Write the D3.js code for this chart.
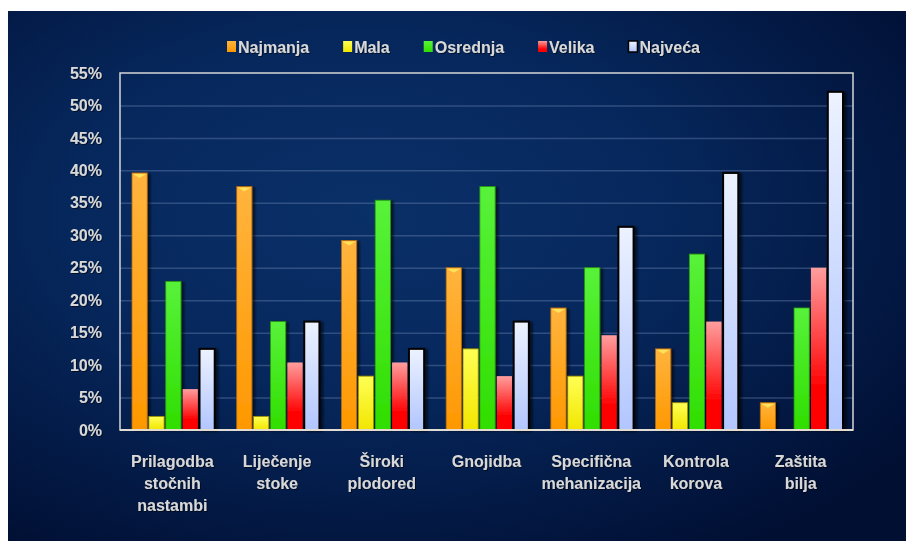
<!DOCTYPE html>
<html>
<head>
<meta charset="utf-8">
<script src="https://cdn.jsdelivr.net/npm/d3@7"></script>
<style>
  html, body { margin: 0; padding: 0; background: #fff; }
  text { font-family: "Liberation Sans", Arial, sans-serif; font-weight: bold; fill: #d8d8d8; }
</style>
</head>
<body>
<div id="chart"></div>
<script>
// categories (one line per row of the label)
const categories = [
  ["Prilagodba", "stočnih", "nastambi"],
  ["Liječenje", "stoke"],
  ["Široki", "plodored"],
  ["Gnojidba"],
  ["Specifična", "mehanizacija"],
  ["Kontrola", "korova"],
  ["Zaštita", "bilja"]
]

const seriesNames = ["Najmanja", "Mala", "Osrednja", "Velika", "Najveća"]

// values in %
const najmanja = [39.6, 37.5, 29.2, 25.0, 18.8, 12.5, 4.2]
const mala     = [2.1, 2.1, 8.3, 12.5, 8.3, 4.2, 0]
const osrednja = [22.9, 16.7, 35.4, 37.5, 25.0, 27.1, 18.8]
const velika   = [6.3, 10.4, 10.4, 8.3, 14.6, 16.7, 25.0]
const najveca  = [12.5, 16.7, 12.5, 16.7, 31.3, 39.6, 52.1]

const yTicks = [0, 5, 10, 15, 20, 25, 30, 35, 40, 45, 50, 55]

const width = 907
const height = 541
const margin = { top: 73, right: 54, bottom: 111, left: 120 }

const seriesValues = [najmanja, mala, osrednja, velika, najveca]
const catKeys = categories.map(c => c.join(" "))

const svg = d3.select("#chart")
  .append("svg")
  .attr("width", width)
  .attr("height", height)

const defs = svg.append("defs")

const bg = defs.append("radialGradient")
  .attr("id", "bg")
  .attr("cx", "40%").attr("cy", "38%").attr("r", "75%")
bg.append("stop").attr("offset", "0%").attr("stop-color", "#0a3068")
bg.append("stop").attr("offset", "45%").attr("stop-color", "#06275c")
bg.append("stop").attr("offset", "100%").attr("stop-color", "#010f33")

// fills for each series: [top colour, bottom colour, stroke, stroke width]
const looks = {
  "Najmanja": ["#ffb43e", "#ff9800", "#b36a10", 0.8],
  "Mala":     ["#ffff55", "#f2e600", "#9a8c00", 0.8],
  "Osrednja": ["#58f23a", "#30de00", "#2a9a10", 0.8],
  "Velika":   ["#ff9e9e", "#ff0000", "#c03030", 0],
  "Najveća":  ["#ecf2ff", "#b2c6ff", "#000000", 2]
}

seriesNames.forEach((s, i) => {
  const g = defs.append("linearGradient")
    .attr("id", "grad" + i)
    .attr("x1", 0).attr("y1", 0).attr("x2", 0).attr("y2", 1)
  g.append("stop").attr("offset", "0%").attr("stop-color", looks[s][0])
  g.append("stop").attr("offset", s === "Velika" ? "75%" : "100%").attr("stop-color", looks[s][1])
})

const shadow = defs.append("filter")
  .attr("id", "shadow")
  .attr("x", "-20%").attr("y", "-5%").attr("width", "160%").attr("height", "115%")
shadow.append("feDropShadow")
  .attr("dx", 3).attr("dy", 1)
  .attr("stdDeviation", 1.2)
  .attr("flood-color", "#000")
  .attr("flood-opacity", 0.55)

const textShadow = defs.append("filter").attr("id", "tshadow")
textShadow.append("feDropShadow")
  .attr("dx", 1).attr("dy", 1)
  .attr("stdDeviation", 0.6)
  .attr("flood-color", "#000")
  .attr("flood-opacity", 0.6)

// panel
svg.append("rect")
  .attr("x", 8).attr("y", 11)
  .attr("width", 898).attr("height", 530)
  .attr("fill", "url(#bg)")

const x0 = d3.scaleBand()
  .domain(catKeys)
  .range([margin.left, width - margin.right])

const x1 = d3.scaleBand()
  .domain(seriesNames)
  .range([12, x0.bandwidth() - 10])
  .paddingInner(0.1)

const y = d3.scaleLinear()
  .domain([0, 55])
  .range([height - margin.bottom, margin.top])

// gridlines
svg.append("g")
  .attr("transform", `translate(${margin.left},0)`)
  .call(d3.axisLeft(y)
    .tickValues(yTicks.slice(1, -1))
    .tickSize(-(width - margin.left - margin.right))
    .tickFormat(""))
  .call(g => g.select(".domain").remove())
  .call(g => g.selectAll("line")
    .attr("stroke", "#6f86b4")
    .attr("stroke-opacity", 0.4)
    .attr("stroke-width", 1.5))

// y labels
svg.append("g")
  .attr("transform", `translate(${margin.left},0)`)
  .call(d3.axisLeft(y)
    .tickValues(yTicks)
    .tickSize(0)
    .tickPadding(18)
    .tickFormat(d => d + "%"))
  .call(g => g.select(".domain").remove())
  .call(g => g.selectAll("text")
    .attr("fill", "#d8d8d8")
    .attr("font-size", 16)
    .attr("font-weight", "bold")
    .attr("font-family", "Liberation Sans, Arial, sans-serif")
    .attr("filter", "url(#tshadow)"))

// bars
const groups = svg.append("g")
  .selectAll("g")
  .data(catKeys)
  .join("g")
  .attr("transform", d => `translate(${x0(d)},0)`)

const bars = groups.selectAll("g")
  .data((d, ci) => seriesNames.map((s, si) => ({ s, si, v: seriesValues[si][ci] })))
  .join("g")
  .filter(d => d.v > 0)

bars.append("rect")
  .attr("x", d => x1(d.s))
  .attr("y", d => y(d.v))
  .attr("width", x1.bandwidth())
  .attr("height", d => y(0) - y(d.v))
  .attr("fill", d => `url(#grad${d.si})`)
  .attr("stroke", d => looks[d.s][2])
  .attr("stroke-width", d => looks[d.s][3])
  .attr("filter", "url(#shadow)")

// little bevel highlight on top of the orange bars
bars.filter(d => d.s === "Najmanja")
  .append("path")
  .attr("d", d => {
    const xl = x1(d.s) + 1, xr = x1(d.s) + x1.bandwidth() - 1, yt = y(d.v) + 1
    return `M${xl},${yt} L${xr},${yt} L${(xl + xr) / 2},${yt + 4} Z`
  })
  .attr("fill", "#ffe25a")

// plot frame
svg.append("rect")
  .attr("x", margin.left).attr("y", margin.top)
  .attr("width", width - margin.left - margin.right)
  .attr("height", height - margin.top - margin.bottom)
  .attr("fill", "none")
  .attr("stroke", "#d6d6d6")
  .attr("stroke-width", 1.5)

svg.append("line")
  .attr("x1", margin.left).attr("x2", width - margin.right)
  .attr("y1", y(0)).attr("y2", y(0))
  .attr("stroke", "#e2ddd0")
  .attr("stroke-width", 2)

// category labels
svg.append("g")
  .selectAll("text")
  .data(categories)
  .join("text")
  .attr("x", (d, i) => x0(catKeys[i]) + x0.bandwidth() / 2)
  .attr("y", 467)
  .attr("text-anchor", "middle")
  .attr("font-size", 16)
  .attr("filter", "url(#tshadow)")
  .selectAll("tspan")
  .data(d => d)
  .join("tspan")
  .attr("x", function () { return this.parentNode.getAttribute("x") })
  .attr("dy", (d, i) => i === 0 ? 0 : 22)
  .text(d => d)

// legend
const legend = svg.append("g").attr("transform", "translate(227,0)")
let lx = 0
seriesNames.forEach((s, i) => {
  legend.append("rect")
    .attr("x", lx).attr("y", 41)
    .attr("width", 9).attr("height", 11)
    .attr("fill", `url(#grad${i})`)
    .attr("stroke", looks[s][3] === 2 ? "#000" : "none")
    .attr("stroke-width", 1.5)
  const t = legend.append("text")
    .attr("x", lx + 11).attr("y", 53)
    .attr("font-size", 16)
    .attr("filter", "url(#tshadow)")
    .text(s)
  lx += 11 + t.node().getComputedTextLength() + 34
})
</script>
</body>
</html>
